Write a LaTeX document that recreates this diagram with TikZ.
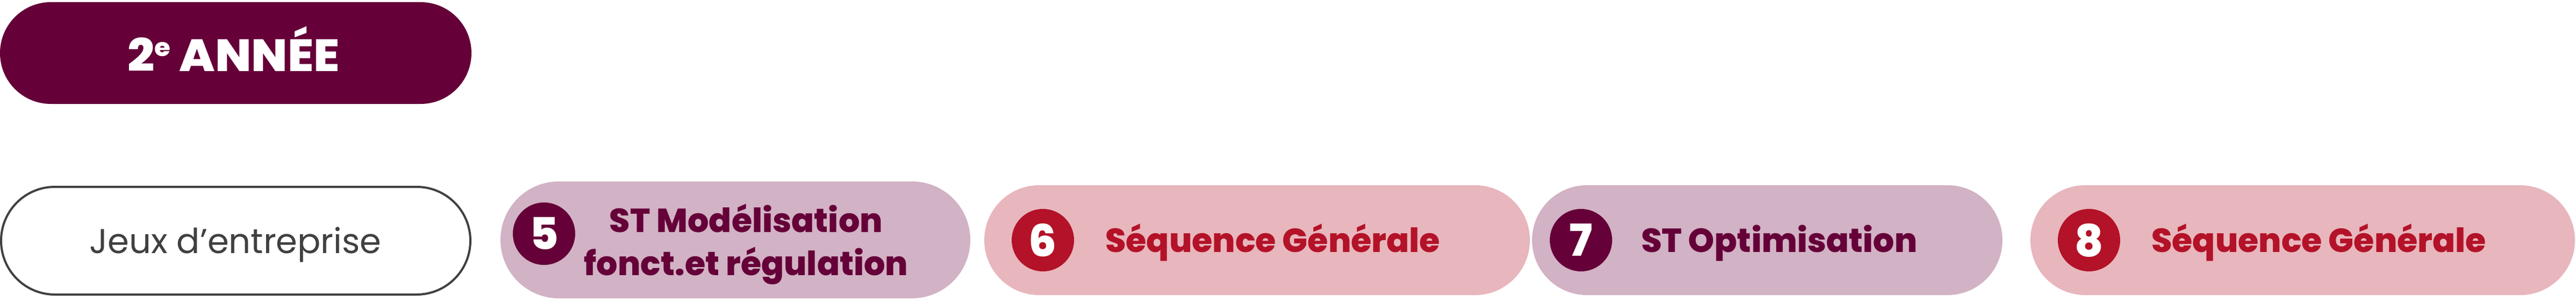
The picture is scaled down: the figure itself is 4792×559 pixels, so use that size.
\documentclass[tikz,border=0pt]{standalone}
\usepackage{fontspec}
\setmainfont{Poppins}[BoldFont={Poppins ExtraBold}]
\newfontfamily\titrefont[FakeStretch=1.05,BoldFont={Poppins ExtraBold}]{Poppins}
\usetikzlibrary{shapes.misc}
\definecolor{prune}{HTML}{650038}
\definecolor{mauve}{HTML}{D2B2C5}
\definecolor{rose}{HTML}{E8B6BD}
\definecolor{rouge}{HTML}{B31228}
\definecolor{gris}{HTML}{404040}
\begin{document}
\begin{tikzpicture}[x=1pt,y=-1pt,
  pill/.style={rounded rectangle,inner sep=0pt,minimum height=204pt},
  num/.style={circle,inner sep=0pt,minimum size=116pt,text=white,
    font=\fontsize{82}{82}\selectfont\bfseries},
  lab/.style={anchor=base west,inner sep=0pt,font=\fontsize{62}{80}\selectfont\bfseries}]
\useasboundingbox (0,0) rectangle (4792,559);
% titre
\node[pill,fill=prune,minimum width=877pt,minimum height=189pt] (annee) at (438.5,98.5) {};
\node[anchor=base,inner sep=0pt,text=white,font=\titrefont\fontsize{84}{84}\selectfont\bfseries]
  (titre) at (434.5,132) {2\raisebox{28pt}{\fontsize{46}{46}\selectfont e} ANNÉE};
% jeux
\node[pill,draw=gris,line width=4pt,fill=white,minimum width=873pt,minimum height=200pt]
  (jeux) at (438.5,447) {};
\node[anchor=base,inner sep=0pt,text=gris,font=\fontsize{64}{64}\selectfont]
  (jeuxlab) at (438,470) {Jeux d’entreprise};
% sequences
\node[pill,fill=mauve,minimum width=874pt,minimum height=217pt] (st5) at (1368,445.5) {};
\node[num,fill=prune] (num5) at (1012,434) {5};
\node[anchor=base,align=center,inner sep=0pt,text=prune,
  font=\fontsize{62}{80}\selectfont\bfseries] (lab5) at (1388,511)
  {ST Modélisation\\fonct.et régulation};
\node[pill,fill=rose,minimum width=1015pt] (seq6) at (2338.5,446) {};
\node[num,fill=rouge] (num6) at (1940,446) {6};
\node[lab,text=rouge] (lab6) at (2056,468) {Séquence Générale};
\node[pill,fill=mauve,minimum width=875pt] (st7) at (3287.5,446) {};
\node[num,fill=prune] (num7) at (2941,446) {7};
\node[lab,text=prune] (lab7) at (3053,468) {ST Optimisation};
\node[pill,fill=rose,minimum width=1013pt] (seq8) at (4283.5,446) {};
\node[num,fill=rouge] (num8) at (3886,446) {8};
\node[lab,text=rouge] (lab8) at (4002,468) {Séquence Générale};
\end{tikzpicture}
\end{document}
